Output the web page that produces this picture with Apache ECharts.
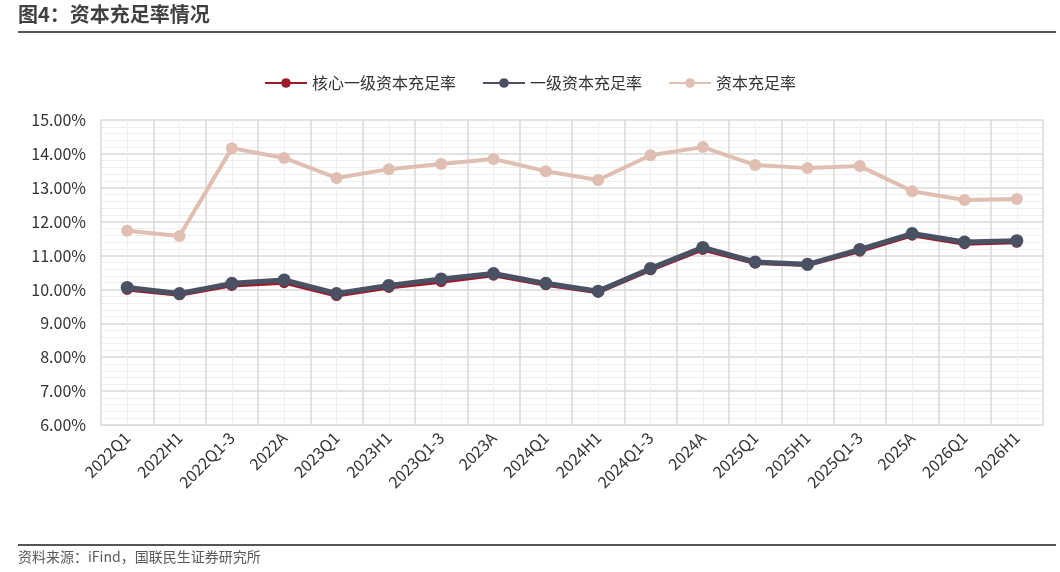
<!DOCTYPE html>
<html>
<head>
<meta charset="utf-8">
<script src="https://cdn.jsdelivr.net/npm/echarts@6/dist/echarts.min.js"></script>
<style>
  html, body { margin: 0; padding: 0; background: #fff; }
  #chart { width: 1060px; height: 572px; }
</style>
</head>
<body>
<div id="chart"></div>
<script>
// 资本充足率情况
var categories = ['2022Q1', '2022H1', '2022Q1-3', '2022A', '2023Q1', '2023H1', '2023Q1-3', '2023A',
  '2024Q1', '2024H1', '2024Q1-3', '2024A', '2025Q1', '2025H1', '2025Q1-3', '2025A', '2026Q1', '2026H1'];
var coreTier1 = [10.00, 9.84, 10.12, 10.20, 9.82, 10.06, 10.23, 10.42, 10.14, 9.92, 10.58, 11.18, 10.78, 10.72, 11.13, 11.60, 11.35, 11.39];
var tier1 = [10.06, 9.88, 10.18, 10.28, 9.88, 10.12, 10.31, 10.47, 10.18, 9.95, 10.62, 11.24, 10.81, 10.74, 11.18, 11.65, 11.40, 11.44];
var capital = [11.73, 11.58, 14.17, 13.88, 13.29, 13.55, 13.70, 13.85, 13.49, 13.23, 13.96, 14.20, 13.67, 13.58, 13.64, 12.90, 12.64, 12.67];

var font = '"Microsoft YaHei", "Noto Sans CJK SC", sans-serif';
var chart = echarts.init(document.getElementById('chart'));

function lineSeries(name, data, color, width, size, z) {
  return {
    name: name,
    type: 'line',
    data: data,
    symbol: 'circle',
    symbolSize: size,
    z: z,
    lineStyle: { color: color, width: width },
    itemStyle: { color: color }
  };
}

chart.setOption({
  animation: false,
  textStyle: { fontFamily: font },
  graphic: [
    { type: 'text', left: 18, top: 4, style: { text: '图4：资本充足率情况', fontSize: 20, fontWeight: 'bold', fill: '#404040', fontFamily: font } },
    { type: 'rect', shape: { x: 18, y: 31, width: 1038, height: 2 }, style: { fill: '#555' } },
    { type: 'rect', shape: { x: 18, y: 544, width: 1038, height: 2 }, style: { fill: '#555' } },
    { type: 'text', left: 18, top: 550, style: { text: '资料来源：iFind，国联民生证券研究所', fontSize: 14, fill: '#595959', fontFamily: font } }
  ],
  legend: {
    top: 70,
    left: 'center',
    itemGap: 26,
    itemWidth: 42,
    itemHeight: 12,
    textStyle: { fontSize: 16, color: '#333' },
    data: ['核心一级资本充足率', '一级资本充足率', '资本充足率']
  },
  grid: { left: 101, right: 17, top: 120, bottom: 147 },
  xAxis: [{
    type: 'category',
    data: categories,
    boundaryGap: true,
    axisLine: { lineStyle: { color: '#d9d9d9' } },
    axisTick: { show: false },
    splitLine: { show: true, lineStyle: { color: '#d9d9d9', width: 1.5 } },
    axisLabel: { rotate: 45, fontSize: 16, color: '#333', margin: 10, interval: 0 }
  }, {
    type: 'value',
    min: 0,
    max: 18,
    interval: 1,
    show: true,
    axisLine: { show: false },
    axisTick: { show: false },
    axisLabel: { show: false },
    splitLine: { show: false },
    minorTick: { show: false, splitNumber: 2 },
    minorSplitLine: { show: true, lineStyle: { color: '#efefef', width: 1 } }
  }],
  yAxis: {
    type: 'value',
    min: 6,
    max: 15,
    interval: 1,
    axisLine: { show: false },
    axisTick: { show: false },
    axisLabel: { fontSize: 16, color: '#333', margin: 15, formatter: function (v) { return v.toFixed(2) + '%'; } },
    splitLine: { lineStyle: { color: '#d9d9d9', width: 1.5 } },
    minorTick: { show: false, splitNumber: 5 },
    minorSplitLine: { show: true, lineStyle: { color: '#efefef', width: 1 } }
  },
  series: [
    lineSeries('核心一级资本充足率', coreTier1, '#9b1c2c', 4, 11, 3),
    lineSeries('一级资本充足率', tier1, '#495163', 5, 13, 4),
    lineSeries('资本充足率', capital, '#e0bfb2', 4, 12, 2)
  ]
});
</script>
</body>
</html>
